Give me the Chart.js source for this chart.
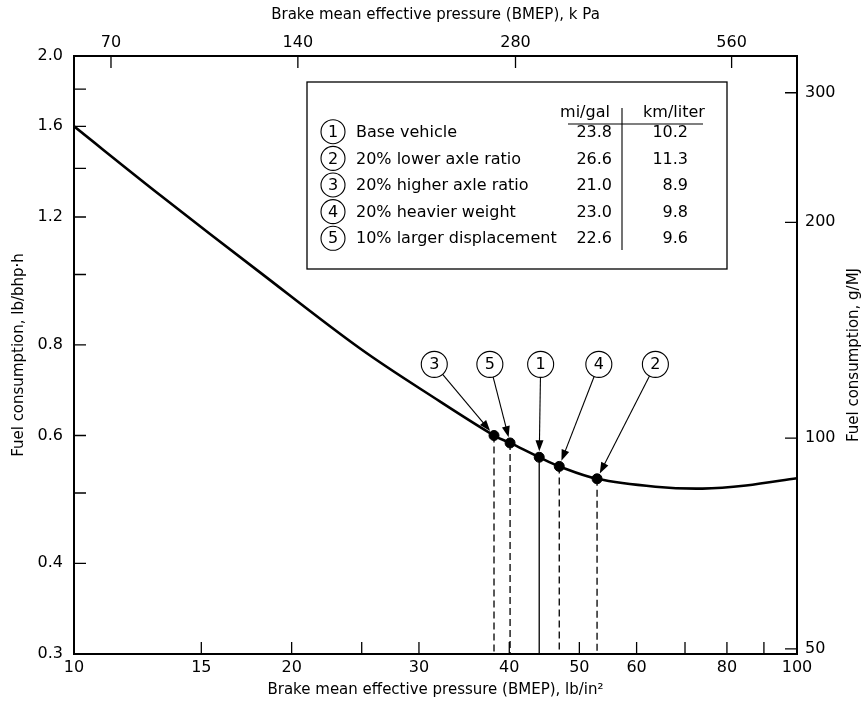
<!DOCTYPE html>
<html lang="en">
<head>
<meta charset="UTF-8">
<title>Fuel consumption vs BMEP</title>
<script src="https://cdn.jsdelivr.net/npm/chart.js"></script>
<style>
  html, body { margin: 0; padding: 0; background: #fff; }
</style>
</head>
<body>
<canvas id="chart" width="867" height="702"></canvas>
<script>
// fuel consumption curve, lb/bhp-h vs BMEP lb/in^2
const curveX = [10, 13.15, 18.1, 24.9, 32.1, 38.1, 40.1, 44.0, 46.9, 52.9, 63.7, 74, 85, 100];
const curveY = [1.6, 1.287, 1.006, 0.79, 0.668, 0.600, 0.586, 0.560, 0.544, 0.523, 0.510, 0.507, 0.512, 0.524];

// operating points of the five vehicle cases
const markerIds = [1, 2, 3, 4, 5];
const markerX = [44.0, 52.9, 38.1, 46.9, 40.1];
const markerY = [0.560, 0.523, 0.600, 0.544, 0.586];

// numbered callouts above the curve
const calloutIds = [3, 5, 1, 4, 2];
const calloutX = [31.5, 37.6, 44.2, 53.2, 63.7];
const calloutY = 0.752;

// table in the box
const caseNames = ['Base vehicle', '20% lower axle ratio', '20% higher axle ratio', '20% heavier weight', '10% larger displacement'];
const milesPerGal = [23.8, 26.6, 21.0, 23.0, 22.6];
const kmPerLiter = [10.2, 11.3, 8.9, 9.8, 9.6];
const tableHeads = ['mi/gal', 'km/liter'];

// axes
const xTickValues = [10, 15, 20, 25, 30, 40, 50, 60, 70, 80, 90, 100];
const xTickLabels = ['10', '15', '20', '', '30', '40', '50', '60', '', '80', '', '100'];
const topTickValues = [11.25, 20.4, 40.8, 81.2];   // where the kPa ticks sit on the psi scale
const topTickLabels = ['70', '140', '280', '560'];
const yTickValues = [0.3, 0.4, 0.5, 0.6, 0.8, 1.0, 1.2, 1.4, 1.6, 1.8, 2.0];
const yTickLabels = ['0.3', '0.4', '', '0.6', '0.8', '', '1.2', '', '1.6', '', '2.0'];
const rightTickValues = [0.305, 0.595, 1.18, 1.78]; // g/MJ ticks on the lb/bhp-h scale
const rightTickLabels = ['50', '100', '200', '300'];

const FONT = '"DejaVu Sans", sans-serif';
Chart.defaults.font.family = FONT;
Chart.defaults.color = '#000';

function fixedTicks(values) {
  return scale => { scale.ticks = values.map(v => ({ value: v })); };
}

function axis(pos, values, labels, pad, extra) {
  return Object.assign({
    type: 'logarithmic',
    position: pos,
    afterBuildTicks: fixedTicks(values),
    ticks: {
      autoSkip: false, maxRotation: 0, padding: pad,
      font: { size: 16 },
      callback: (v, i) => labels[i]
    },
    grid: { drawOnChartArea: false, drawTicks: false },
    border: { display: true, color: '#000', width: 2 }
  }, extra);
}

const decor = {
  id: 'decor',
  afterDatasetsDraw(chart) {
    const { ctx, chartArea: a, scales } = chart;
    const sx = scales.x, sy = scales.y;
    ctx.save();
    ctx.strokeStyle = '#000';
    ctx.fillStyle = '#000';

    // inward tick marks on all four sides
    const len = 12;
    ctx.lineWidth = 1.3;
    ctx.beginPath();
    [['x', a.bottom, -1], ['x2', a.top, 1]].forEach(([id, base, dir]) => {
      const s = scales[id];
      s.ticks.forEach(t => {
        const p = s.getPixelForValue(t.value);
        if (p > a.left + 2 && p < a.right - 2) { ctx.moveTo(p, base); ctx.lineTo(p, base + dir * len); }
      });
    });
    [['y', a.left, 1], ['y2', a.right, -1]].forEach(([id, base, dir]) => {
      const s = scales[id];
      s.ticks.forEach(t => {
        const p = s.getPixelForValue(t.value);
        if (p > a.top + 2 && p < a.bottom - 2) { ctx.moveTo(base, p); ctx.lineTo(base + dir * len, p); }
      });
    });
    ctx.stroke();

    // callout numbers and arrows
    ctx.font = '16px ' + FONT;
    ctx.textAlign = 'center';
    ctx.textBaseline = 'middle';
    ctx.lineWidth = 1.1;
    calloutIds.forEach((id, i) => {
      const cx = sx.getPixelForValue(calloutX[i]);
      const cy = sy.getPixelForValue(calloutY);
      ctx.fillText(String(id), cx, cy + 1);
      const k = markerIds.indexOf(id);
      const mx = sx.getPixelForValue(markerX[k]);
      const my = sy.getPixelForValue(markerY[k]);
      const dx = mx - cx, dy = my - cy, d = Math.hypot(dx, dy);
      const ux = dx / d, uy = dy / d;
      const x0 = cx + ux * 13, y0 = cy + uy * 13;
      const x1 = mx - ux * 6, y1 = my - uy * 6;
      ctx.beginPath();
      ctx.moveTo(x0, y0);
      ctx.lineTo(x1 - ux * 8, y1 - uy * 8);
      ctx.stroke();
      ctx.beginPath();
      ctx.moveTo(x1, y1);
      ctx.lineTo(x1 - ux * 11 - uy * 4, y1 - uy * 11 + ux * 4);
      ctx.lineTo(x1 - ux * 11 + uy * 4, y1 - uy * 11 - ux * 4);
      ctx.closePath();
      ctx.fill();
    });

    // table box
    const L = a.left + 233, T = a.top + 26, W = 420, H = 187;
    ctx.lineWidth = 1.3;
    ctx.strokeRect(L, T, W, H);
    ctx.textAlign = 'center';
    ctx.fillText(tableHeads[0], L + 278, T + 31);
    ctx.fillText(tableHeads[1], L + 367, T + 31);
    ctx.lineWidth = 1.1;
    ctx.beginPath();
    ctx.moveTo(L + 261, T + 42); ctx.lineTo(L + 396, T + 42);
    ctx.moveTo(L + 315, T + 26); ctx.lineTo(L + 315, T + 168);
    ctx.stroke();
    caseNames.forEach((name, i) => {
      const y = T + 49.7 + i * 26.65;
      ctx.beginPath();
      ctx.arc(L + 26, y, 12, 0, Math.PI * 2);
      ctx.stroke();
      ctx.textAlign = 'center';
      ctx.fillText(String(i + 1), L + 26, y + 1);
      ctx.textAlign = 'left';
      ctx.fillText(name, L + 49, y + 1);
      ctx.textAlign = 'right';
      ctx.fillText(milesPerGal[i].toFixed(1), L + 305, y + 1);
      ctx.fillText(kmPerLiter[i].toFixed(1), L + 381, y + 1);
    });

    // right axis title reads bottom to top like the left one
    ctx.font = '15px ' + FONT;
    ctx.textAlign = 'center';
    ctx.translate(854, (a.top + a.bottom) / 2);
    ctx.rotate(-Math.PI / 2);
    ctx.fillText('Fuel consumption, g/MJ', 0, 0);
    ctx.restore();
  }
};

const dropLines = markerIds.map((id, i) => ({
  type: 'line',
  data: [{ x: markerX[i], y: markerY[i] }, { x: markerX[i], y: 0.3 }],
  borderColor: '#000',
  borderWidth: 1.3,
  borderDash: id === 1 ? [] : [7, 4],
  pointRadius: 0,
  order: 3
}));

new Chart(document.getElementById('chart'), {
  type: 'line',
  data: {
    datasets: [
      {
        data: curveX.map((x, i) => ({ x, y: curveY[i] })),
        borderColor: '#000',
        borderWidth: 2.6,
        pointRadius: 0,
        tension: 0.35,
        order: 2
      },
      {
        type: 'scatter',
        data: markerX.map((x, i) => ({ x, y: markerY[i] })),
        backgroundColor: '#000',
        borderColor: '#000',
        pointRadius: 5,
        order: 1
      },
      {
        type: 'scatter',
        data: calloutX.map(x => ({ x, y: calloutY })),
        backgroundColor: '#fff',
        borderColor: '#000',
        borderWidth: 1.1,
        pointRadius: 13,
        order: 1
      },
      ...dropLines
    ]
  },
  options: {
    responsive: false,
    animation: false,
    devicePixelRatio: 1,
    layout: { padding: 0 },
    plugins: { legend: { display: false }, tooltip: { enabled: false } },
    scales: {
      x: axis('bottom', xTickValues, xTickLabels, 4, {
        min: 10, max: 100,
        title: { display: true, text: 'Brake mean effective pressure (BMEP), lb/in²', font: { size: 15 }, padding: { top: 0, bottom: 3 } },
        afterFit: s => { s.height = 48; }
      }),
      x2: axis('top', topTickValues, topTickLabels, 4, {
        min: 10, max: 100,
        title: { display: true, text: 'Brake mean effective pressure (BMEP), k Pa', font: { size: 15 }, padding: { top: 6, bottom: 0 } },
        afterFit: s => { s.height = 56; }
      }),
      y: axis('left', yTickValues, yTickLabels, 11, {
        min: 0.3, max: 2.0,
        title: { display: true, text: 'Fuel consumption, lb/bhp·h', font: { size: 15 }, padding: { top: 10, bottom: 0 } },
        afterFit: s => { s.width = 74; }
      }),
      y2: axis('right', rightTickValues, rightTickLabels, 8, {
        min: 0.3, max: 2.0,
        afterFit: s => { s.width = 70; }
      })
    }
  },
  plugins: [decor]
});
</script>
</body>
</html>
